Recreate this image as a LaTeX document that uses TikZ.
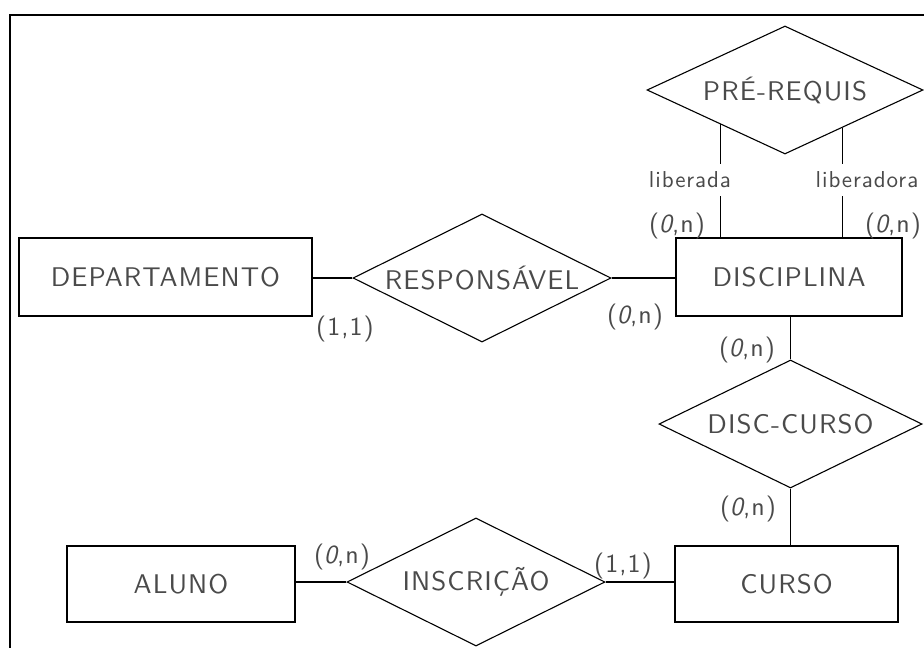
\documentclass[tikz,border=0pt]{standalone}
\usepackage{fontspec}
\newfontfamily\cad{lmsans10-regular.otf}[LetterSpace=4,ItalicFont=lmsans10-oblique.otf]
\usetikzlibrary{shapes.geometric}
\definecolor{txt}{HTML}{4A4A4A}
\tikzset{
  ent/.style={draw=black, line width=1.2pt, rectangle, inner sep=0pt, text=txt, font=\cad\fontsize{27}{31}\selectfont},
  rel/.style={draw=black, line width=1.1pt, diamond, inner sep=0pt, text=txt, font=\cad\fontsize{27}{31}\selectfont},
  card/.style={text=txt, inner sep=0pt, font=\cad\fontsize{26}{30}\selectfont},
  role/.style={text=txt, fill=white, inner xsep=1pt, inner ysep=8pt, font=\cad\fontsize{23}{27}\selectfont},
  conn/.style={draw=black, line width=1.1pt}
}
\newcommand{\crd}[1]{(\textit{0},#1)}
\begin{document}
\begin{tikzpicture}[x=1pt,y=-1pt]
\useasboundingbox[fill=white] (0,0) rectangle (924,648);
% frame (partially visible)
\draw[line width=1.1pt] (10,648) -- (10,15) -- (924,15);
% entities
\node[ent, minimum width=293pt, minimum height=78pt] (dep) at (165.5,277) {DEPARTAMENTO};
\node[ent, minimum width=226pt, minimum height=78pt] (dis) at (789,277) {DISCIPLINA};
\node[ent, minimum width=228pt, minimum height=76pt] (alu) at (181,584) {ALUNO};
\node[ent, minimum width=223pt, minimum height=76pt] (cur) at (786.5,584) {CURSO};
% relationships
\node[rel, aspect=2.016, minimum width=258pt, minimum height=128pt] (resp) at (482,278) {RESPONSÁVEL};
\node[rel, aspect=2.156, minimum width=276pt, minimum height=128pt] (pre) at (785,90) {PRÉ-REQUIS};
\node[rel, aspect=2.055, minimum width=263pt, minimum height=128pt] (dc) at (790.5,424) {DISC-CURSO};
\node[rel, aspect=2.016, minimum width=258pt, minimum height=128pt] (ins) at (476,582) {INSCRIÇÃO};
% connectors
\draw[conn] (dep.east) -- (resp.west -| dep.east) -- (resp.west);
\draw[conn] (resp.east) -- (resp.east -| dis.west);
\draw[conn] (dc.north) -- (dc.north |- dis.south);
\draw[conn] (dc.south) -- (dc.south |- cur.north);
\draw[conn] (ins.west) -- (ins.west -| alu.east);
\draw[conn] (ins.east) -- (ins.east -| cur.west);
\draw[conn] (pre.208) -- (pre.208 |- dis.north);
\draw[conn] (pre.327.5) -- (pre.327.5 |- dis.north);
% role names
\node[role] (lb1) at (690,180) {liberada};
\node[role] (lb2) at (867,180) {liberadora};
% cardinalities
\node[card] (c1) at (677,226) {\crd{n}};
\node[card] (c2) at (893,226) {\crd{n}};
\node[card] (c3) at (635,317) {\crd{n}};
\node[card] (c4) at (345,329) {(1,1)};
\node[card] (c5) at (747,350) {\crd{n}};
\node[card] (c6) at (748,509) {\crd{n}};
\node[card] (c7) at (342,557) {\crd{n}};
\node[card] (c8) at (623,566) {(1,1)};
\end{tikzpicture}
\end{document}
